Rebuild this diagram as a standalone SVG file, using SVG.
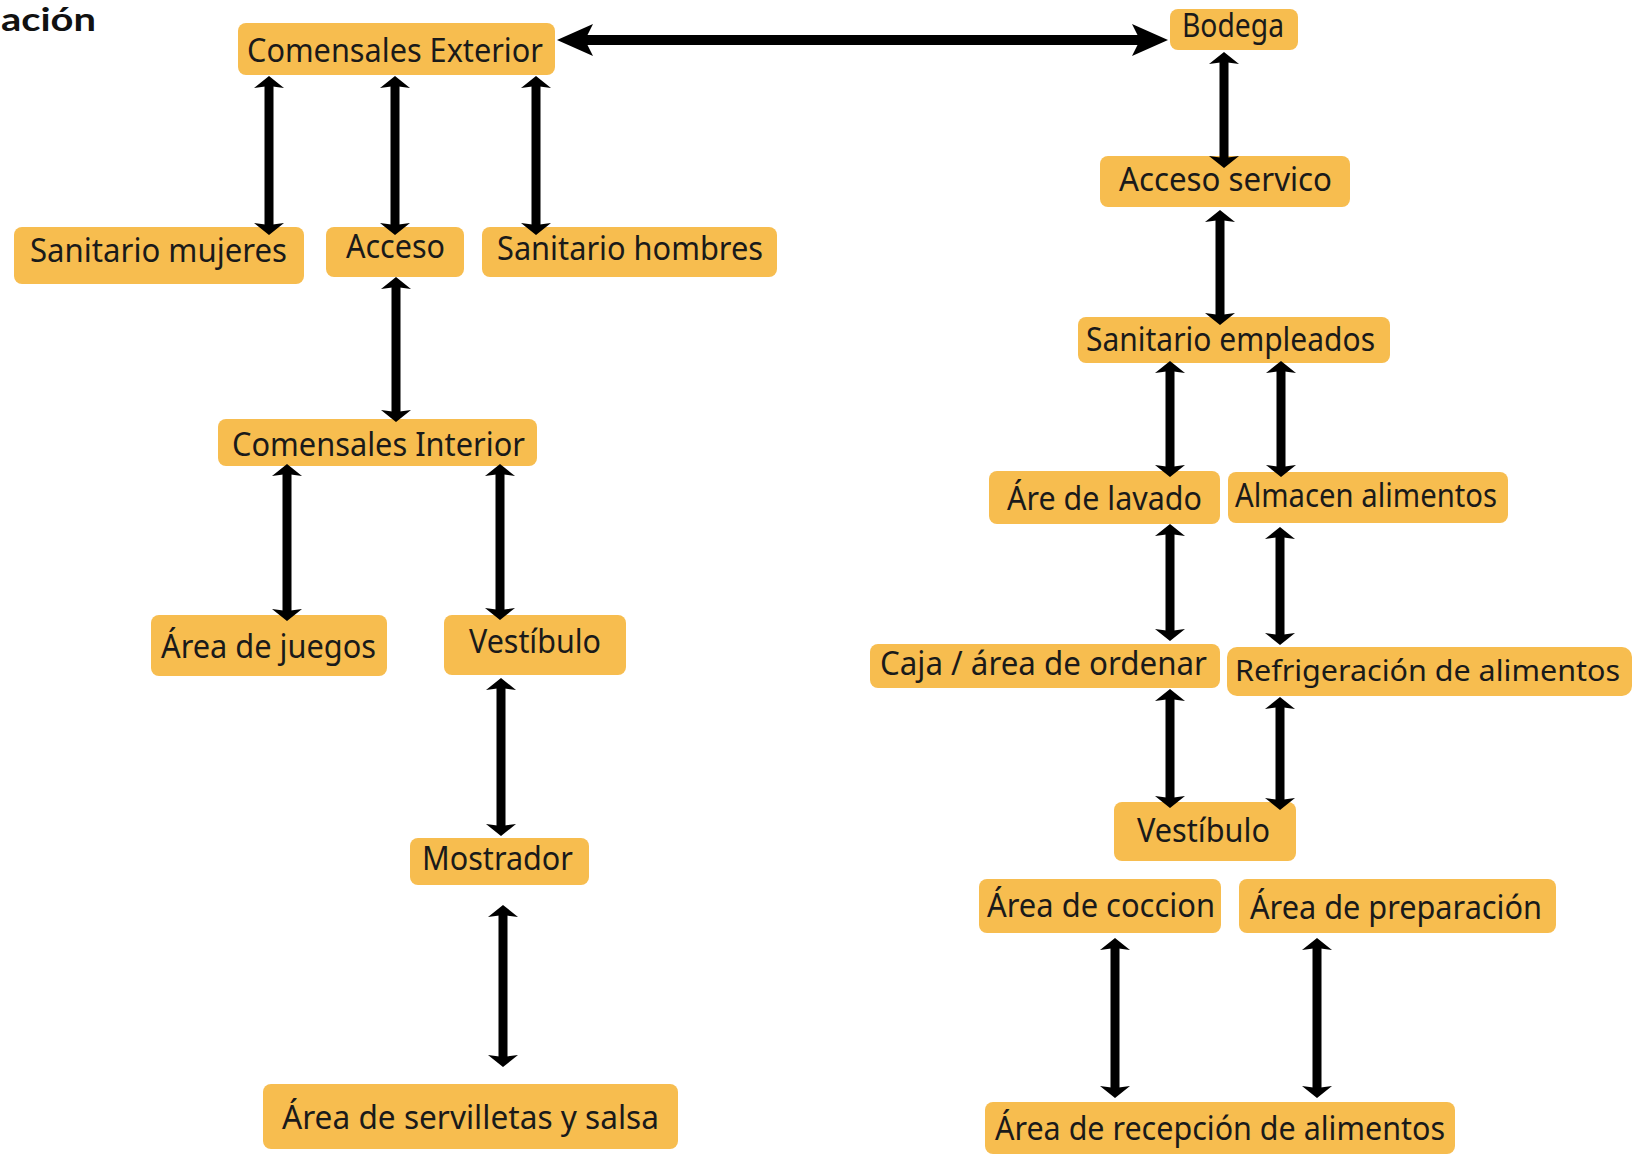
<svg xmlns="http://www.w3.org/2000/svg" width="1635" height="1154" viewBox="0 0 1635 1154">
<style>
.box{fill:#F7BD4F;}
.lbl{font-family:"Noto Sans","DejaVu Sans",sans-serif;font-size:32px;fill:#1a1a1a;text-anchor:start;}
.conn{stroke:#000;stroke-width:9;fill:none;}
.big{stroke:#000;stroke-width:10;fill:none;}
.title{font-family:Lato,"Noto Sans",sans-serif;font-weight:bold;font-size:33px;fill:#111;}
</style>
<defs>
<marker id="ah" markerUnits="userSpaceOnUse" viewBox="-2 -17 16 34" markerWidth="16" markerHeight="34" refX="3" refY="0" orient="auto-start-reverse">
<path d="M0,-15 L12,0 L0,15 L2,0 Z" fill="#000"/>
</marker>
<marker id="bh" markerUnits="userSpaceOnUse" viewBox="-1 -17 40 34" markerWidth="40" markerHeight="34" refX="12" refY="0" orient="auto-start-reverse">
<path d="M0,-16 L36,0 L0,16 L8,0 Z" fill="#000"/>
</marker>
</defs>
<rect width="1635" height="1154" fill="#fff"/>
<text class="title" x="1" y="31" textLength="95" lengthAdjust="spacingAndGlyphs">ación</text>

<g id="n-comensales-exterior"><rect class="box" x="238" y="23" width="317" height="52" rx="8"/><text class="lbl" x="247" y="62" textLength="296" lengthAdjust="spacingAndGlyphs">Comensales Exterior</text></g>
<g id="n-bodega"><rect class="box" x="1170" y="9" width="128" height="41" rx="8"/><text class="lbl" x="1182" y="37" textLength="102" lengthAdjust="spacingAndGlyphs">Bodega</text></g>
<g id="n-sanitario-mujeres"><rect class="box" x="14" y="227" width="290" height="57" rx="8"/><text class="lbl" x="30" y="262" textLength="257" lengthAdjust="spacingAndGlyphs">Sanitario mujeres</text></g>
<g id="n-acceso"><rect class="box" x="326" y="227" width="138" height="50" rx="8"/><text class="lbl" x="346" y="258" textLength="99" lengthAdjust="spacingAndGlyphs">Acceso</text></g>
<g id="n-sanitario-hombres"><rect class="box" x="482" y="227" width="295" height="50" rx="8"/><text class="lbl" x="497" y="260" textLength="266" lengthAdjust="spacingAndGlyphs">Sanitario hombres</text></g>
<g id="n-comensales-interior"><rect class="box" x="218" y="419" width="319" height="47" rx="8"/><text class="lbl" x="232" y="456" textLength="293" lengthAdjust="spacingAndGlyphs">Comensales Interior</text></g>
<g id="n-area-juegos"><rect class="box" x="151" y="615" width="236" height="61" rx="8"/><text class="lbl" x="161" y="658" textLength="215" lengthAdjust="spacingAndGlyphs">Área de juegos</text></g>
<g id="n-vestibulo-1"><rect class="box" x="444" y="615" width="182" height="60" rx="8"/><text class="lbl" x="469" y="653" textLength="132" lengthAdjust="spacingAndGlyphs">Vestíbulo</text></g>
<g id="n-mostrador"><rect class="box" x="410" y="838" width="179" height="47" rx="8"/><text class="lbl" x="422" y="870" textLength="151" lengthAdjust="spacingAndGlyphs">Mostrador</text></g>
<g id="n-servilletas"><rect class="box" x="263" y="1084" width="415" height="65" rx="8"/><text class="lbl" x="282" y="1129" textLength="377" lengthAdjust="spacingAndGlyphs">Área de servilletas y salsa</text></g>
<g id="n-acceso-servico"><rect class="box" x="1100" y="156" width="250" height="51" rx="8"/><text class="lbl" x="1119" y="191" textLength="213" lengthAdjust="spacingAndGlyphs">Acceso servico</text></g>
<g id="n-sanitario-empleados"><rect class="box" x="1078" y="317" width="312" height="46" rx="8"/><text class="lbl" x="1086" y="351" textLength="289" lengthAdjust="spacingAndGlyphs">Sanitario empleados</text></g>
<g id="n-lavado"><rect class="box" x="989" y="471" width="231" height="53" rx="8"/><text class="lbl" x="1007" y="510" textLength="195" lengthAdjust="spacingAndGlyphs">Áre de lavado</text></g>
<g id="n-almacen"><rect class="box" x="1228" y="472" width="280" height="51" rx="8"/><text class="lbl" x="1235" y="507" textLength="262" lengthAdjust="spacingAndGlyphs">Almacen alimentos</text></g>
<g id="n-caja"><rect class="box" x="870" y="644" width="350" height="44" rx="8"/><text class="lbl" x="880" y="675" textLength="327" lengthAdjust="spacingAndGlyphs">Caja / área de ordenar</text></g>
<g id="n-refrigeracion"><rect class="box" x="1227" y="647" width="405" height="49" rx="10"/><text class="lbl" x="1235" y="681" font-size="29" style="font-size:29px" textLength="385" lengthAdjust="spacingAndGlyphs">Refrigeración de alimentos</text></g>
<g id="n-vestibulo-2"><rect class="box" x="1114" y="802" width="182" height="59" rx="8"/><text class="lbl" x="1137" y="842" textLength="133" lengthAdjust="spacingAndGlyphs">Vestíbulo</text></g>
<g id="n-coccion"><rect class="box" x="979" y="879" width="242" height="54" rx="8"/><text class="lbl" x="987" y="917" textLength="228" lengthAdjust="spacingAndGlyphs">Área de coccion</text></g>
<g id="n-preparacion"><rect class="box" x="1239" y="879" width="317" height="54" rx="8"/><text class="lbl" x="1250" y="919" textLength="292" lengthAdjust="spacingAndGlyphs">Área de preparación</text></g>
<g id="n-recepcion"><rect class="box" x="985" y="1102" width="470" height="52" rx="8"/><text class="lbl" x="995" y="1140" textLength="450" lengthAdjust="spacingAndGlyphs">Área de recepción de alimentos</text></g>

<g id="connectors">
<line class="big" x1="581" y1="40" x2="1144" y2="40" marker-start="url(#bh)" marker-end="url(#bh)"/>
<line class="conn" x1="269" y1="85" x2="269" y2="226" marker-start="url(#ah)" marker-end="url(#ah)"/>
<line class="conn" x1="395" y1="85" x2="395" y2="226" marker-start="url(#ah)" marker-end="url(#ah)"/>
<line class="conn" x1="536" y1="85" x2="536" y2="226" marker-start="url(#ah)" marker-end="url(#ah)"/>
<line class="conn" x1="396" y1="286" x2="396" y2="413" marker-start="url(#ah)" marker-end="url(#ah)"/>
<line class="conn" x1="287" y1="473" x2="287" y2="612" marker-start="url(#ah)" marker-end="url(#ah)"/>
<line class="conn" x1="500" y1="473" x2="500" y2="611" marker-start="url(#ah)" marker-end="url(#ah)"/>
<line class="conn" x1="501" y1="687" x2="501" y2="827" marker-start="url(#ah)" marker-end="url(#ah)"/>
<line class="conn" x1="503" y1="914" x2="503" y2="1058" marker-start="url(#ah)" marker-end="url(#ah)"/>
<line class="conn" x1="1224" y1="61" x2="1224" y2="159" marker-start="url(#ah)" marker-end="url(#ah)"/>
<line class="conn" x1="1220" y1="219" x2="1220" y2="316" marker-start="url(#ah)" marker-end="url(#ah)"/>
<line class="conn" x1="1170" y1="370" x2="1170" y2="468" marker-start="url(#ah)" marker-end="url(#ah)"/>
<line class="conn" x1="1281" y1="370" x2="1281" y2="468" marker-start="url(#ah)" marker-end="url(#ah)"/>
<line class="conn" x1="1170" y1="533" x2="1170" y2="632" marker-start="url(#ah)" marker-end="url(#ah)"/>
<line class="conn" x1="1280" y1="536" x2="1280" y2="636" marker-start="url(#ah)" marker-end="url(#ah)"/>
<line class="conn" x1="1170" y1="698" x2="1170" y2="799" marker-start="url(#ah)" marker-end="url(#ah)"/>
<line class="conn" x1="1280" y1="706" x2="1280" y2="801" marker-start="url(#ah)" marker-end="url(#ah)"/>
<line class="conn" x1="1115" y1="947" x2="1115" y2="1089" marker-start="url(#ah)" marker-end="url(#ah)"/>
<line class="conn" x1="1317" y1="947" x2="1317" y2="1089" marker-start="url(#ah)" marker-end="url(#ah)"/>
</g>
</svg>
